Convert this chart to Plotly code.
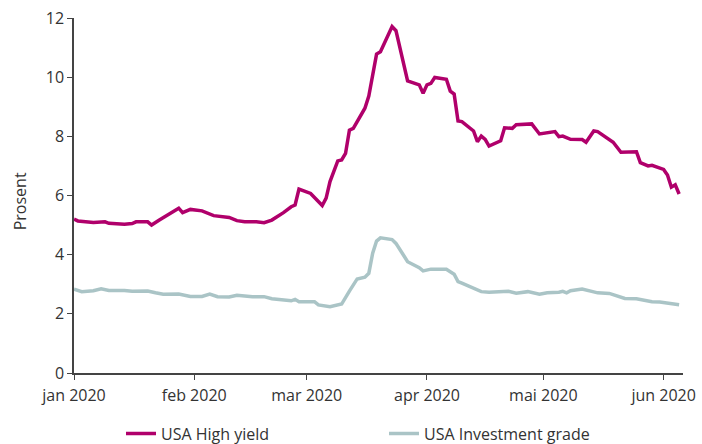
import plotly.graph_objects as go

# USA High yield, effective yield (percent)
hy_dates = [
    "2020-01-01", "2020-01-02", "2020-01-06", "2020-01-09", "2020-01-10", "2020-01-14",
    "2020-01-16", "2020-01-17", "2020-01-20", "2020-01-21", "2020-01-23", "2020-01-28",
    "2020-01-29", "2020-01-31", "2020-02-03", "2020-02-06", "2020-02-10", "2020-02-12",
    "2020-02-14", "2020-02-17", "2020-02-19", "2020-02-21", "2020-02-24", "2020-02-26",
    "2020-02-27", "2020-02-28", "2020-03-02", "2020-03-05", "2020-03-06", "2020-03-07",
    "2020-03-09", "2020-03-10", "2020-03-11", "2020-03-12", "2020-03-13", "2020-03-16",
    "2020-03-17", "2020-03-18", "2020-03-19", "2020-03-20", "2020-03-23", "2020-03-24",
    "2020-03-26", "2020-03-27", "2020-03-30", "2020-03-31", "2020-04-01", "2020-04-02",
    "2020-04-03", "2020-04-06", "2020-04-07", "2020-04-08", "2020-04-09", "2020-04-10",
    "2020-04-13", "2020-04-14", "2020-04-15", "2020-04-16", "2020-04-17", "2020-04-20",
    "2020-04-21", "2020-04-23", "2020-04-24", "2020-04-27", "2020-04-28", "2020-04-30",
    "2020-05-04", "2020-05-05", "2020-05-06", "2020-05-08", "2020-05-11", "2020-05-12",
    "2020-05-14", "2020-05-15", "2020-05-19", "2020-05-21", "2020-05-25", "2020-05-26",
    "2020-05-27", "2020-05-28", "2020-05-29", "2020-06-01", "2020-06-02", "2020-06-03",
    "2020-06-04", "2020-06-05",
]
hy_values = [
    5.20, 5.14, 5.09, 5.11, 5.06, 5.03,
    5.05, 5.11, 5.11, 5.00, 5.17, 5.57,
    5.42, 5.53, 5.48, 5.32, 5.26, 5.15,
    5.11, 5.11, 5.08, 5.17, 5.42, 5.62,
    5.68, 6.22, 6.07, 5.66, 5.91, 6.47,
    7.17, 7.20, 7.42, 8.21, 8.27, 8.95,
    9.36, 10.02, 10.78, 10.86, 11.71, 11.57,
    10.35, 9.87, 9.74, 9.46, 9.74, 9.79,
    9.99, 9.93, 9.53, 9.43, 8.52, 8.50,
    8.18, 7.82, 8.01, 7.90, 7.67, 7.85,
    8.29, 8.27, 8.39, 8.42, 8.42, 8.08,
    8.16, 7.99, 8.01, 7.90, 7.89, 7.80,
    8.18, 8.16, 7.80, 7.46, 7.48, 7.11,
    7.07, 7.00, 7.02, 6.88, 6.69, 6.28,
    6.36, 6.05,
]

# USA Investment grade, effective yield (percent)
ig_dates = [
    "2020-01-01", "2020-01-03", "2020-01-06", "2020-01-08", "2020-01-10", "2020-01-14",
    "2020-01-16", "2020-01-20", "2020-01-22", "2020-01-24", "2020-01-28", "2020-01-31",
    "2020-02-03", "2020-02-05", "2020-02-07", "2020-02-10", "2020-02-12", "2020-02-16",
    "2020-02-19", "2020-02-21", "2020-02-26", "2020-02-27", "2020-02-28", "2020-03-03",
    "2020-03-04", "2020-03-07", "2020-03-10", "2020-03-11", "2020-03-12", "2020-03-14",
    "2020-03-16", "2020-03-17", "2020-03-18", "2020-03-19", "2020-03-20", "2020-03-23",
    "2020-03-24", "2020-03-26", "2020-03-27", "2020-03-30", "2020-03-31", "2020-04-02",
    "2020-04-06", "2020-04-08", "2020-04-09", "2020-04-10", "2020-04-13", "2020-04-15",
    "2020-04-17", "2020-04-20", "2020-04-22", "2020-04-24", "2020-04-27", "2020-04-30",
    "2020-05-02", "2020-05-05", "2020-05-06", "2020-05-07", "2020-05-08", "2020-05-11",
    "2020-05-13", "2020-05-15", "2020-05-18", "2020-05-21", "2020-05-22", "2020-05-25",
    "2020-05-29", "2020-05-31", "2020-06-03", "2020-06-04", "2020-06-05",
]
ig_values = [
    2.83, 2.75, 2.78, 2.85, 2.79, 2.79,
    2.76, 2.77, 2.71, 2.66, 2.67, 2.59,
    2.59, 2.67, 2.58, 2.57, 2.63, 2.58,
    2.58, 2.51, 2.44, 2.49, 2.41, 2.41,
    2.30, 2.24, 2.33, 2.58, 2.77, 3.18,
    3.24, 3.37, 4.05, 4.46, 4.57, 4.51,
    4.38, 3.97, 3.76, 3.56, 3.45, 3.51,
    3.51, 3.34, 3.09, 3.04, 2.88, 2.75,
    2.73, 2.74, 2.76, 2.70, 2.75, 2.66,
    2.71, 2.73, 2.76, 2.71, 2.78, 2.84,
    2.77, 2.71, 2.69, 2.55, 2.52, 2.51,
    2.41, 2.40, 2.36, 2.34, 2.31,
]

tick_vals = ["2020-01-01", "2020-02-01", "2020-03-01", "2020-04-01", "2020-05-01", "2020-06-01"]
tick_text = ["jan 2020", "feb 2020", "mar 2020", "apr 2020", "mai 2020", "jun 2020"]
y_ticks = [0, 2, 4, 6, 8, 10, 12]

HY_COLOR = "#B0006B"
IG_COLOR = "#AAC4C6"
FONT = "Open Sans"
TEXT_COLOR = "#333333"
AXIS_COLOR = "#444444"
FONT_SIZE = 16

fig = go.Figure()
fig.add_trace(go.Scatter(
    x=hy_dates, y=hy_values, mode="lines", name="USA High yield",
    line=dict(color=HY_COLOR, width=3.5),
))
fig.add_trace(go.Scatter(
    x=ig_dates, y=ig_values, mode="lines", name="USA Investment grade",
    line=dict(color=IG_COLOR, width=3.5),
))

axis_style = dict(
    showgrid=False, zeroline=False,
    showline=True, linecolor=AXIS_COLOR, linewidth=1.5,
    ticks="outside", ticklen=5, tickcolor=AXIS_COLOR, tickwidth=1.2,
    tickfont=dict(family=FONT, size=FONT_SIZE, color=TEXT_COLOR),
    automargin=False,
)

fig.update_layout(
    width=702, height=444,
    margin=dict(l=74, r=19, t=18, b=71, autoexpand=False),
    paper_bgcolor="white", plot_bgcolor="white",
    font=dict(family=FONT, size=FONT_SIZE, color=TEXT_COLOR),
    showlegend=True,
    legend=dict(
        orientation="h",
        xref="container", yref="container",
        x=121 / 702, xanchor="left", y=1 - 433.5 / 444, yanchor="middle",
        font=dict(family=FONT, size=FONT_SIZE, color=TEXT_COLOR),
        entrywidth=218, entrywidthmode="pixels",
        itemwidth=30, borderwidth=0, bgcolor="rgba(0,0,0,0)",
    ),
    xaxis=dict(
        type="date",
        range=["2020-01-01", "2020-06-06"],
        tickmode="array", tickvals=tick_vals, ticktext=tick_text,
        ticklabelstandoff=2,
        **axis_style,
    ),
    yaxis=dict(
        range=[0, 12], tickmode="array", tickvals=y_ticks,
        **axis_style,
    ),
    annotations=[dict(
        text="Prosent", textangle=-90, xref="paper", yref="paper",
        x=-(74 - 19.5) / 609, y=(372.7 - 201.5) / 355, xanchor="center", yanchor="middle",
        showarrow=False, font=dict(family=FONT, size=FONT_SIZE, color=TEXT_COLOR),
    )],
)

fig.write_html("out.html")
